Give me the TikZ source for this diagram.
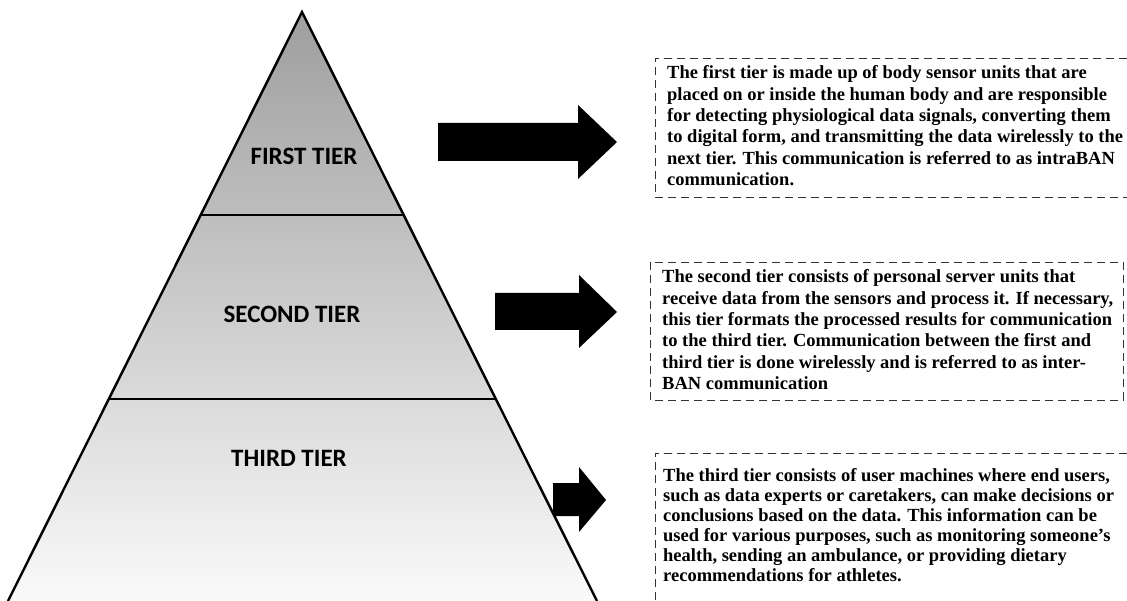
\documentclass[tikz,border=0pt]{standalone}
\usepackage{fontspec}
\setmainfont{Liberation Serif}
\newfontfamily\tierfont{Carlito}
\usetikzlibrary{calc}
\begin{document}
\begin{tikzpicture}[x=1pt,y=-1pt,
  edge/.style={line width=2.4pt,black},
  tierlabel/.style={font=\tierfont\bfseries\fontsize{25}{30}\selectfont,inner sep=0pt},
  fatarrow/.style={fill=black},
  dashbox/.style={draw=black!80,line width=0.9pt,dash pattern=on 8pt off 5pt},
  desc/.style={anchor=base west,inner sep=0pt}
]
\useasboundingbox (0,0) rectangle (1127,601);
\begin{scope}
\clip (0,0) rectangle (1127,601);
% pyramid
\coordinate (apex) at (302,12);
\coordinate (bl) at (8,601);
\coordinate (br) at (597,601);
\coordinate (l1) at ($(apex)!0.3447!(bl)$);
\coordinate (r1) at ($(apex)!0.3447!(br)$);
\coordinate (l2) at ($(apex)!0.657!(bl)$);
\coordinate (r2) at ($(apex)!0.657!(br)$);
\shade[top color=black!38,bottom color=black!2] (apex) -- (br) -- (bl) -- cycle;
\draw[edge,line join=miter] (bl) -- (apex) -- (br);
\draw[edge] (l1) -- (r1);
\draw[edge] (l2) -- (r2);
\node[tierlabel] (t1) at (304,156) {FIRST TIER};
\node[tierlabel] (t2) at (292,314) {SECOND TIER};
\node[tierlabel] (t3) at (289,458) {THIRD TIER};
% arrows
\fill[fatarrow] (438,123) -- (578,123) -- (578,105) -- (617,142) -- (578,179) -- (578,161) -- (438,161) -- cycle;
\fill[fatarrow] (495,293) -- (579,293) -- (579,275) -- (617,312) -- (579,348) -- (579,330) -- (495,330) -- cycle;
\fill[fatarrow] (553,483) -- (579,483) -- (579,467) -- (606,500) -- (579,532) -- (579,516) -- (553,516) -- cycle;
% boxes
\draw[dashbox] (1140,58) -- (655,58) -- (655,197) -- (1140,197);
\draw[dashbox] (650,262) rectangle (1123,400);
\draw[dashbox] (1140,453) -- (655,453) -- (655,620);
% texts
\node[desc] (d1) at (667,79) {\parbox[t]{470pt}{\raggedright\bfseries\fontsize{18.5}{21.3}\selectfont
The first tier is made up of body sensor units that are\\
placed on or inside the human body and are responsible\\
for detecting physiological data signals, converting them\\
to digital form, and transmitting the data wirelessly to the\\
next tier. This communication is referred to as intraBAN\\
communication.}};
\node[desc] (d2) at (662,283) {\parbox[t]{470pt}{\raggedright\bfseries\fontsize{18.5}{21.3}\selectfont
The second tier consists of personal server units that\\
receive data from the sensors and process it. If necessary,\\
this tier formats the processed results for communication\\
to the third tier. Communication between the first and\\
third tier is done wirelessly and is referred to as inter-\\
BAN communication}};
\node[desc] (d3) at (663,481) {\parbox[t]{470pt}{\raggedright\bfseries\fontsize{18.5}{20}\selectfont
The third tier consists of user machines where end users,\\
such as data experts or caretakers, can make decisions or\\
conclusions based on the data. This information can be\\
used for various purposes, such as monitoring someone's\\
health, sending an ambulance, or providing dietary\\
recommendations for athletes.}};
\end{scope}
\end{tikzpicture}
\end{document}
